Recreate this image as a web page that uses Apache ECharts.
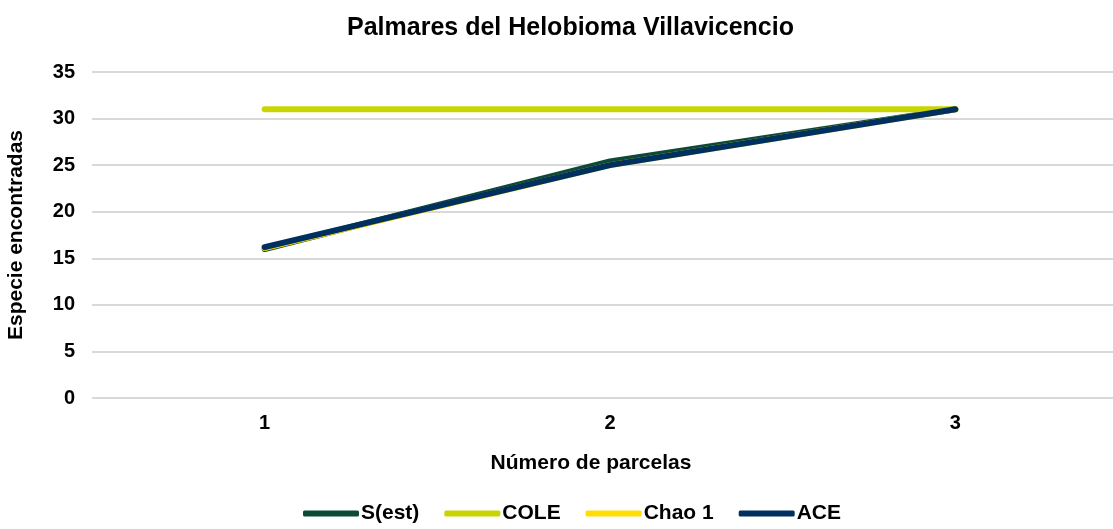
<!DOCTYPE html>
<html>
<head>
<meta charset="utf-8">
<script src="https://cdn.jsdelivr.net/npm/echarts@6/dist/echarts.min.js"></script>
<style>
  html, body { margin: 0; padding: 0; background: #fff; }
  #chart { width: 1113px; height: 529px; }
</style>
</head>
<body>
<div id="chart"></div>
<script>
// datos
var parcelas = ['1', '2', '3'];
var sEst = [16.0, 25.4, 31];
var cole = [31, 31, 31];
var chao1 = [16.1, 25.0, 31];
var ace = [16.2, 25.0, 31];

var myChart = echarts.init(document.getElementById('chart'));
var fuente = '"Liberation Sans", Arial, sans-serif';

function linea(nombre, datos, color) {
    return {
        name: nombre,
        type: 'line',
        data: datos,
        symbol: 'none',
        lineStyle: { color: color, width: 6, cap: 'round', join: 'round' },
        itemStyle: { color: color }
    };
}

var option = {
    animation: false,
    title: {
        text: 'Palmares del Helobioma Villavicencio',
        left: 342,
        top: 11,
        textStyle: { fontFamily: fuente, fontSize: 25, fontWeight: 'bold', color: '#000' }
    },
    legend: {
        bottom: 0,
        left: 298,
        icon: 'roundRect',
        itemWidth: 56,
        itemHeight: 6,
        itemGap: 25,
        textStyle: { fontFamily: fuente, fontSize: 21, fontWeight: 'bold', color: '#000', padding: [0, 0, 0, -3] },
        data: ['S(est)', 'COLE', 'Chao 1', 'ACE']
    },
    grid: { left: 92, top: 72, width: 1036, height: 326, outerBoundsMode: 'none' },
    xAxis: {
        type: 'category',
        data: parcelas,
        boundaryGap: true,
        axisLine: { show: false },
        axisTick: { show: false },
        axisLabel: { fontFamily: fuente, fontSize: 20, fontWeight: 'bold', color: '#000', margin: 15 },
        name: 'Número de parcelas',
        nameLocation: 'middle',
        nameGap: 55,
        nameTextStyle: { fontFamily: fuente, fontSize: 21, fontWeight: 'bold', color: '#000', padding: [0, 38, 0, 0] }
    },
    yAxis: {
        type: 'value',
        min: 0,
        max: 35,
        interval: 5,
        axisLine: { show: false },
        axisTick: { show: false },
        splitLine: { lineStyle: { color: '#d9d9d9', width: 2 } },
        axisLabel: { fontFamily: fuente, fontSize: 20, fontWeight: 'bold', color: '#000', margin: 17 },
        name: 'Especie encontradas',
        nameLocation: 'middle',
        nameGap: 65,
        nameTextStyle: { fontFamily: fuente, fontSize: 21, fontWeight: 'bold', color: '#000' }
    },
    series: [
        linea('S(est)', sEst, '#0b4a36'),
        linea('COLE', cole, '#c9d500'),
        linea('Chao 1', chao1, '#ffdd00'),
        linea('ACE', ace, '#00305f')
    ]
};
myChart.setOption(option);
</script>
</body>
</html>
